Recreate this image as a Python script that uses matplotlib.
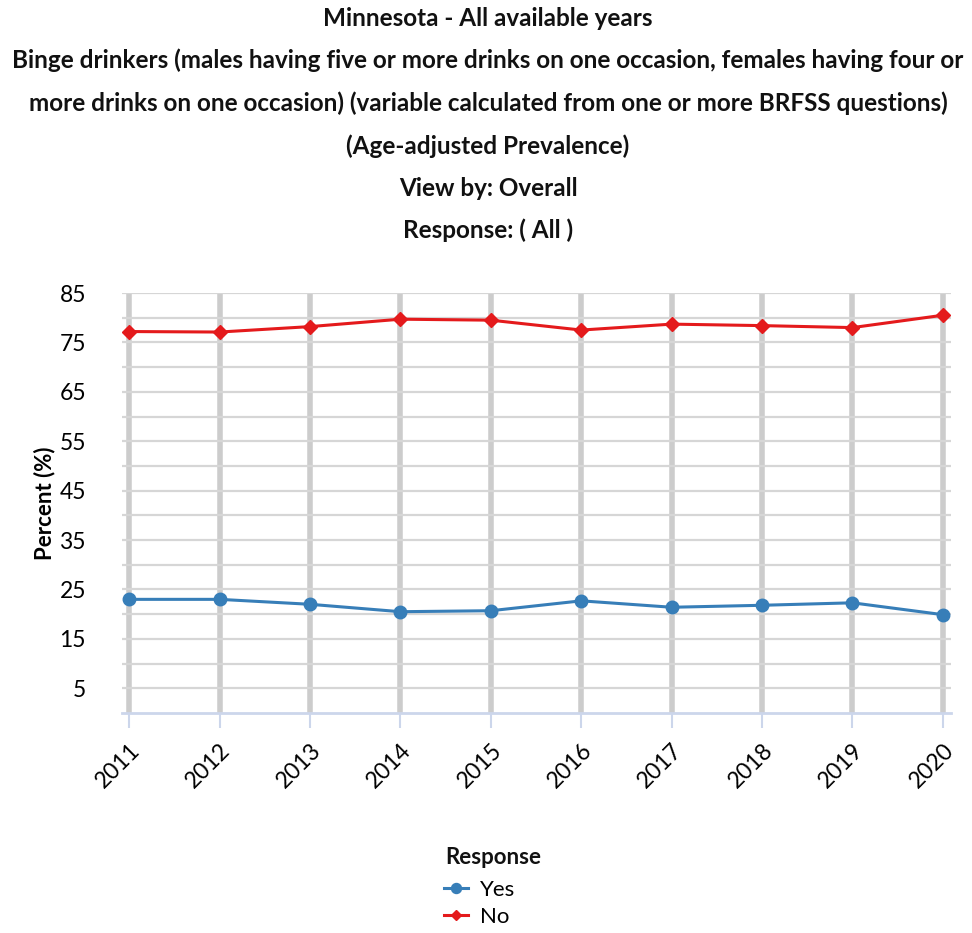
import matplotlib.pyplot as plt
import matplotlib
from matplotlib.ticker import FixedLocator

matplotlib.rcParams['font.family'] = ['Lato', 'DejaVu Sans']

# data
years = ['2011', '2012', '2013', '2014', '2015', '2016', '2017', '2018', '2019', '2020']
yes_vals = [23.0, 23.0, 22.0, 20.5, 20.7, 22.7, 21.4, 21.8, 22.3, 19.9]
no_vals = [77.2, 77.1, 78.2, 79.7, 79.5, 77.5, 78.7, 78.4, 78.0, 80.5]

title_lines = [
    'Minnesota - All available years',
    'Binge drinkers (males having five or more drinks on one occasion, females having four or',
    'more drinks on one occasion) (variable calculated from one or more BRFSS questions)',
    '(Age-adjusted Prevalence)',
    'View by: Overall',
    'Response: ( All )',
]
y_labels = [5, 15, 25, 35, 45, 55, 65, 75, 85]
y_minor = [10, 20, 30, 40, 50, 60, 70, 80]

W, H = 972, 933
fig = plt.figure(figsize=(W / 100, H / 100), dpi=100)

# titles
title_y = [18, 60, 103, 146, 188, 230]
for txt, yy in zip(title_lines, title_y):
    fig.text(488 / W, 1 - yy / H, txt, ha='center', va='center',
             fontsize=17.5, fontweight='bold', color='#111111')

left, right, top, bottom = 122, 951, 293, 713
ax = fig.add_axes([left / W, 1 - bottom / H, (right - left) / W, (bottom - top) / H])

x = list(range(len(years)))
ax.plot(x, yes_vals, color='#377eb8', lw=2.2, marker='o', ms=9, label='Yes', zorder=3,
        clip_on=False)
ax.plot(x, no_vals, color='#e41a1c', lw=2.2, marker='D', ms=7, label='No', zorder=3,
        clip_on=False)

ax.set_xlim(-0.08, 9.09)
ax.set_ylim(0, 85)
ax.set_xticks(x)
ax.set_xticklabels(years, rotation=45, ha='right', rotation_mode='anchor', fontsize=16.5)
ax.yaxis.set_major_locator(FixedLocator(y_labels))
ax.yaxis.set_minor_locator(FixedLocator(y_minor))
ax.set_yticklabels([str(v) for v in y_labels], fontsize=16.5)

ax.grid(axis='y', which='both', color='#d6d6d6', lw=1.6)
ax.grid(axis='x', which='major', color='#cccccc', lw=4)
ax.set_axisbelow(True)

for s in ['top', 'right', 'left']:
    ax.spines[s].set_visible(False)
ax.spines['bottom'].set_color('#ccd6eb')
ax.spines['bottom'].set_linewidth(2)
ax.tick_params(axis='y', which='both', length=0, pad=26)
ax.tick_params(axis='x', length=11, width=1.5, color='#ccd6eb', pad=8)

ax.set_ylabel('Percent (%)', fontsize=16, fontweight='bold')
ax.yaxis.set_label_coords(-(left - 55) / (right - left), 0.5)

# legend title drawn separately so its gap matches the original
fig.text(445 / W, 1 - 857 / H, 'Response', ha='left', va='center',
         fontsize=16, fontweight='bold', color='#111111')
leg = fig.legend(loc='upper left', bbox_to_anchor=(444 / W, 1 - 880 / H),
                 frameon=False, fontsize=16, borderaxespad=0, borderpad=0,
                 handlelength=1.1, handletextpad=0.5, labelspacing=0.3,
                 markerscale=0.8)

fig.savefig('out.png', dpi=100)
